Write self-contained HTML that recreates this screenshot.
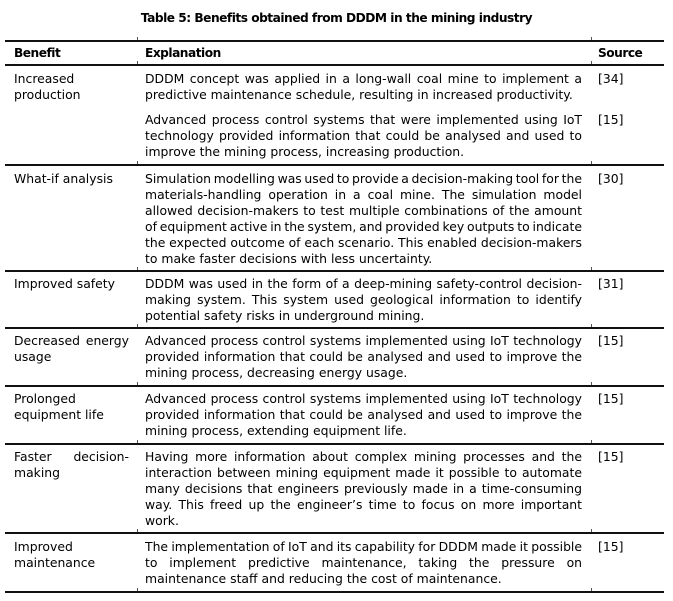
<!DOCTYPE html>
<html>
<head>
<meta charset="utf-8">
<style>
  html, body { margin:0; padding:0; background:#fff; }
  body { width:673px; height:601px; position:relative; overflow:hidden;
         font-family:"DejaVu Sans", "Liberation Sans", sans-serif; font-size:12.4px; color:#000; }
  .title { position:absolute; top:10px; left:0; width:673px; text-align:center;
           font-weight:bold; font-size:12.2px; letter-spacing:-0.5px; line-height:16px; }
  .rule { position:absolute; left:5px; width:659px; height:1.6px; background:#111; }
  .tick { position:absolute; width:1px; height:3px; background:#555; }
  .cell { position:absolute; line-height:16px; }
  .b { left:14px; width:115px; }
  .e { left:145px; width:437px; }
  .s { left:598px; }
  .l { white-space:nowrap; text-align:justify; text-align-last:justify; word-spacing:-2px; }
  .last { white-space:nowrap; text-align:left; }
  .h { font-weight:bold; font-size:12.2px; letter-spacing:-0.5px; }
</style>
</head>
<body>
<div class="title">Table 5: Benefits obtained from DDDM in the mining industry</div>

<div class="rule" style="top:40px"></div>
<div class="rule" style="top:64px"></div>
<div class="rule" style="top:164px"></div>
<div class="rule" style="top:270px"></div>
<div class="rule" style="top:327px"></div>
<div class="rule" style="top:385px"></div>
<div class="rule" style="top:443px"></div>
<div class="rule" style="top:532px"></div>
<div class="rule" style="top:591px"></div>

<div class="tick" style="left:137px;top:37px"></div><div class="tick" style="left:591px;top:37px"></div>
<div class="tick" style="left:137px;top:61px"></div><div class="tick" style="left:591px;top:61px"></div>
<div class="tick" style="left:137px;top:161px"></div><div class="tick" style="left:591px;top:161px"></div>
<div class="tick" style="left:137px;top:267px"></div><div class="tick" style="left:591px;top:267px"></div>
<div class="tick" style="left:137px;top:324px"></div><div class="tick" style="left:591px;top:324px"></div>
<div class="tick" style="left:137px;top:382px"></div><div class="tick" style="left:591px;top:382px"></div>
<div class="tick" style="left:137px;top:440px"></div><div class="tick" style="left:591px;top:440px"></div>
<div class="tick" style="left:137px;top:529px"></div><div class="tick" style="left:591px;top:529px"></div>
<div class="tick" style="left:137px;top:588px"></div><div class="tick" style="left:591px;top:588px"></div>

<!-- header -->
<div class="cell b h" style="top:45px">Benefit</div>
<div class="cell e h" style="top:45px">Explanation</div>
<div class="cell s h" style="top:45px">Source</div>

<!-- row 1 -->
<div class="cell b" style="top:71px"><div class="last">Increased</div><div class="last">production</div></div>
<div class="cell e" style="top:71px">
  <div class="l">DDDM concept was applied in a long-wall coal mine to implement a</div>
  <div class="last">predictive maintenance schedule, resulting in increased productivity.</div>
</div>
<div class="cell s" style="top:71px">[34]</div>
<div class="cell e" style="top:112px">
  <div class="l">Advanced process control systems that were implemented using IoT</div>
  <div class="l">technology provided information that could be analysed and used to</div>
  <div class="last">improve the mining process, increasing production.</div>
</div>
<div class="cell s" style="top:112px">[15]</div>

<!-- row 2 -->
<div class="cell b" style="top:171px"><div class="last">What-if analysis</div></div>
<div class="cell e" style="top:171px">
  <div class="l">Simulation modelling was used to provide a decision-making tool for the</div>
  <div class="l">materials-handling operation in a coal mine. The simulation model</div>
  <div class="l">allowed decision-makers to test multiple combinations of the amount</div>
  <div class="l">of equipment active in the system, and provided key outputs to indicate</div>
  <div class="l">the expected outcome of each scenario. This enabled decision-makers</div>
  <div class="last">to make faster decisions with less uncertainty.</div>
</div>
<div class="cell s" style="top:171px">[30]</div>

<!-- row 3 -->
<div class="cell b" style="top:276px"><div class="last">Improved safety</div></div>
<div class="cell e" style="top:276px">
  <div class="l">DDDM was used in the form of a deep-mining safety-control decision-</div>
  <div class="l">making system. This system used geological information to identify</div>
  <div class="last">potential safety risks in underground mining.</div>
</div>
<div class="cell s" style="top:276px">[31]</div>

<!-- row 4 -->
<div class="cell b" style="top:333px"><div class="l">Decreased energy</div><div class="last">usage</div></div>
<div class="cell e" style="top:333px">
  <div class="l">Advanced process control systems implemented using IoT technology</div>
  <div class="l">provided information that could be analysed and used to improve the</div>
  <div class="last">mining process, decreasing energy usage.</div>
</div>
<div class="cell s" style="top:333px">[15]</div>

<!-- row 5 -->
<div class="cell b" style="top:391px"><div class="last">Prolonged</div><div class="last">equipment life</div></div>
<div class="cell e" style="top:391px">
  <div class="l">Advanced process control systems implemented using IoT technology</div>
  <div class="l">provided information that could be analysed and used to improve the</div>
  <div class="last">mining process, extending equipment life.</div>
</div>
<div class="cell s" style="top:391px">[15]</div>

<!-- row 6 -->
<div class="cell b" style="top:449px"><div class="l">Faster decision-</div><div class="last">making</div></div>
<div class="cell e" style="top:449px">
  <div class="l">Having more information about complex mining processes and the</div>
  <div class="l">interaction between mining equipment made it possible to automate</div>
  <div class="l">many decisions that engineers previously made in a time-consuming</div>
  <div class="l">way. This freed up the engineer’s time to focus on more important</div>
  <div class="last">work.</div>
</div>
<div class="cell s" style="top:449px">[15]</div>

<!-- row 7 -->
<div class="cell b" style="top:539px"><div class="last">Improved</div><div class="last">maintenance</div></div>
<div class="cell e" style="top:539px">
  <div class="l">The implementation of IoT and its capability for DDDM made it possible</div>
  <div class="l">to implement predictive maintenance, taking the pressure on</div>
  <div class="last">maintenance staff and reducing the cost of maintenance.</div>
</div>
<div class="cell s" style="top:539px">[15]</div>
</body>
</html>
